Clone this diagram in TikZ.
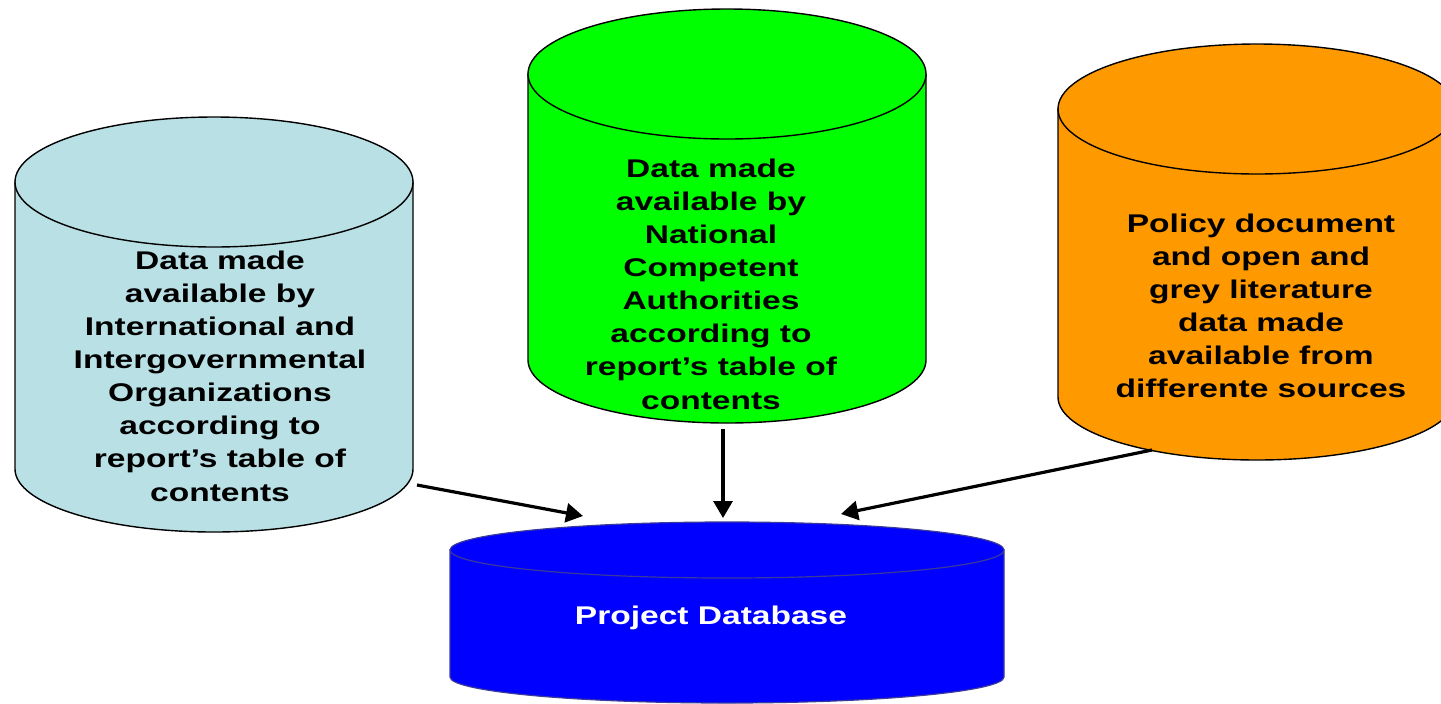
\documentclass[tikz,border=0pt]{standalone}
\usepackage{fontspec}
\usetikzlibrary{arrows.meta}
\newfontfamily\lblfont[FakeStretch=1.31]{Liberation Sans Bold}
\definecolor{cylblue}{HTML}{B9E0E4}
\definecolor{cylgreen}{HTML}{00FF00}
\definecolor{cylorange}{HTML}{FF9900}
\definecolor{dbblue}{HTML}{0000FF}
\definecolor{dbedge}{HTML}{3A3A9A}
\tikzset{
  cylbody/.style={draw=black, line width=0.7pt},
  dbbody/.style={draw=dbedge, line width=0.6pt},
  lbl/.style={align=center, inner sep=0pt, font=\lblfont\fontsize{12.8}{16.55}\selectfont},
  feed/.style={line width=1.6pt, -{Triangle[length=8.5pt, width=9.5pt]}}
}
\begin{document}
\begin{tikzpicture}[x=0.5pt, y=0.5pt]
\useasboundingbox (0,0) rectangle (1441,-703);
\clip (0,0) rectangle (1441,-703);
% left cylinder
\filldraw[cylbody, fill=cylblue] (15,-182) -- (15,-469)
  arc[start angle=180, end angle=360, x radius=199, y radius=63] -- (413,-182) -- cycle;
\filldraw[cylbody, fill=cylblue] (214,-182) ellipse [x radius=199, y radius=65];
% green cylinder
\filldraw[cylbody, fill=cylgreen] (528,-74) -- (528,-360)
  arc[start angle=180, end angle=360, x radius=199, y radius=63] -- (926,-74) -- cycle;
\filldraw[cylbody, fill=cylgreen] (727,-74) ellipse [x radius=199, y radius=65];
% orange cylinder
\filldraw[cylbody, fill=cylorange] (1058,-109) -- (1058,-397)
  arc[start angle=180, end angle=360, x radius=199, y radius=63] -- (1456,-109) -- cycle;
\filldraw[cylbody, fill=cylorange] (1257,-109) ellipse [x radius=199, y radius=65];
% database cylinder
\filldraw[dbbody, fill=dbblue] (450,-550) -- (450,-677)
  arc[start angle=180, end angle=360, x radius=277, y radius=26] -- (1004,-550) -- cycle;
\filldraw[dbbody, fill=dbblue] (727,-550) ellipse [x radius=277, y radius=28];

% labels
\node[lbl] (intl) at (220,-376) {Data made\\available by\\International and\\Intergovernmental\\Organizations\\according to\\report’s table of\\contents};
\node[lbl] (nat) at (711,-284) {Data made\\available by\\National\\Competent\\Authorities\\according to\\report’s table of\\contents};
\node[lbl] (pol) at (1261,-306) {Policy document\\and open and\\grey literature\\data made\\available from\\differente sources};
\node[lbl, text=white] (db) at (711,-618) {Project Database};

% connector ends
\coordinate (intl-out) at (417,-485);
\coordinate (nat-out) at (723,-429);
\coordinate (pol-out) at (1152,-450);
\coordinate (db-in1) at (583,-516);
\coordinate (db-in2) at (723,-518);
\coordinate (db-in3) at (841,-514);

\draw[feed] (intl-out) -- (db-in1);
\draw[feed] (nat-out) -- (db-in2);
\draw[feed] (pol-out) -- (db-in3);
\end{tikzpicture}
\end{document}
